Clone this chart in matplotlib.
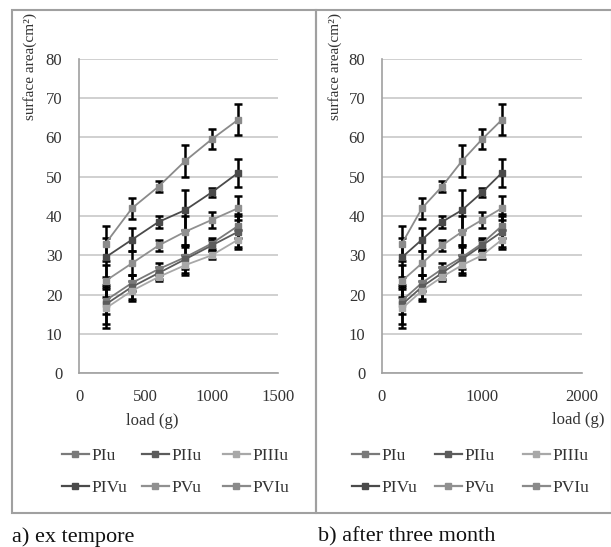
import matplotlib
matplotlib.use('Agg')
import matplotlib.pyplot as plt
from matplotlib.patches import Rectangle
from matplotlib.lines import Line2D

plt.rcParams['font.family'] = ['Liberation Serif', 'DejaVu Serif']

# ---- data ----
loads = [200, 400, 600, 800, 1000, 1200]
series_names = ['PIu', 'PIIu', 'PIIIu', 'PIVu', 'PVu', 'PVIu']
PIu = [18.5, 23.0, 26.5, 29.5, 33.0, 37.5]
PIIu = [17.5, 22.0, 25.5, 29.0, 32.5, 36.0]
PIIIu = [16.5, 21.0, 24.5, 27.5, 30.0, 34.0]
PIVu = [29.5, 34.0, 38.5, 41.5, 46.0, 51.0]
PVu = [23.5, 28.0, 32.5, 36.0, 39.0, 42.0]
PVIu = [33.0, 42.0, 47.5, 54.0, 59.5, 64.5]
err_PIu = [3.5, 2.0, 1.5, 3.0, 1.5, 3.0]
err_PIIu = [5.0, 3.0, 1.5, 3.5, 1.5, 4.0]
err_PIIIu = [5.0, 2.5, 1.0, 2.5, 1.0, 2.5]
err_PIVu = [5.0, 3.0, 1.5, 5.0, 1.2, 3.5]
err_PVu = [4.0, 3.0, 1.5, 4.0, 2.0, 3.0]
err_PVIu = [4.5, 2.7, 1.5, 4.0, 2.5, 4.0]
y_ticks = [0, 10, 20, 30, 40, 50, 60, 70, 80]
x_ticks_a = [0, 500, 1000, 1500]
x_ticks_b = [0, 1000, 2000]

values = [PIu, PIIu, PIIIu, PIVu, PVu, PVIu]
errors = [err_PIu, err_PIIu, err_PIIIu, err_PIVu, err_PVu, err_PVIu]
colors = ['#7a7a7a', '#5c5c5c', '#a8a8a8', '#4a4a4a', '#909090', '#8a8a8a']

W, H = 611, 547
fig = plt.figure(figsize=(W / 100, H / 100), dpi=100)


def box(x0, y0, x1, y1):
    return [x0 / W, 1 - y1 / H, (x1 - x0) / W, (y1 - y0) / H]


# panel borders
for (x0, x1) in [(12, 316), (316, 612)]:
    fig.patches.append(Rectangle((x0 / W, 1 - 513 / H), (x1 - x0) / W, (513 - 10) / H,
                                 transform=fig.transFigure, fill=False,
                                 edgecolor='#a0a0a0', linewidth=1.5))

tc = '#333333'


def draw_panel(ax, xticks, xlim):
    for name, v, e, c in zip(series_names, values, errors, colors):
        ax.errorbar(loads, v, yerr=e, fmt='-s', color=c, ecolor='black',
                    elinewidth=1.8, capsize=3.2, capthick=1.8, markersize=5,
                    linewidth=1.3, markeredgecolor=c, zorder=3)
    ax.set_xlim(*xlim)
    ax.set_ylim(0, 80)
    ax.set_xticks(xticks)
    ax.set_yticks(y_ticks)
    ax.yaxis.grid(True, color='#c8c8c8', linewidth=1.2)
    ax.set_axisbelow(True)
    for s in ['top', 'right']:
        ax.spines[s].set_visible(False)
    for s in ['left', 'bottom']:
        ax.spines[s].set_color('#a0a0a0')
        ax.spines[s].set_linewidth(1.2)
    ax.tick_params(axis='y', length=0, pad=12, labelsize=12, labelcolor=tc)
    ax.tick_params(axis='x', length=0, pad=11, labelsize=12, labelcolor=tc)


axa = fig.add_axes(box(79, 58.7, 278, 373.3))
draw_panel(axa, x_ticks_a, (0, 1500))
axb = fig.add_axes(box(382, 58.7, 582, 373.3))
draw_panel(axb, x_ticks_b, (0, 2000))

# y labels
for xc in (30, 335):
    fig.text(xc / W, 1 - 13 / H, 'surface area(cm²)', rotation=90, ha='center',
             va='top', fontsize=11, color=tc)

# x labels
fig.text(152 / W, 1 - 421 / H, 'load (g)', ha='center', va='center', fontsize=12, color=tc)
fig.text(578 / W, 1 - 420 / H, 'load (g)', ha='center', va='center', fontsize=12, color=tc)

# legends: one small legend per column, rows = (first three, last three)
handles = [Line2D([], [], color=c, marker='s', markersize=4, linewidth=1.6,
                  markeredgecolor=c) for c in colors]
col_x = {'a': (62, 142, 223), 'b': (352, 435, 523)}
for key in ('a', 'b'):
    for j, x0 in enumerate(col_x[key]):
        idx = [j, j + 3]
        fig.legend([handles[i] for i in idx], [series_names[i] for i in idx],
                   ncol=1, loc='center left',
                   bbox_to_anchor=(x0 / W, 1 - 472 / H), frameon=False,
                   fontsize=12.5, handlelength=1.55, handletextpad=0.17,
                   labelspacing=0.95, labelcolor=tc,
                   borderpad=0, borderaxespad=0)

# captions
fig.text(12 / W, 1 - 537 / H, 'a) ex tempore', ha='left', va='center', fontsize=16, color='#111111')
fig.text(318 / W, 1 - 537 / H, 'b) after three month', ha='left', va='center', fontsize=16, color='#111111')

fig.savefig('out.png', dpi=100)
